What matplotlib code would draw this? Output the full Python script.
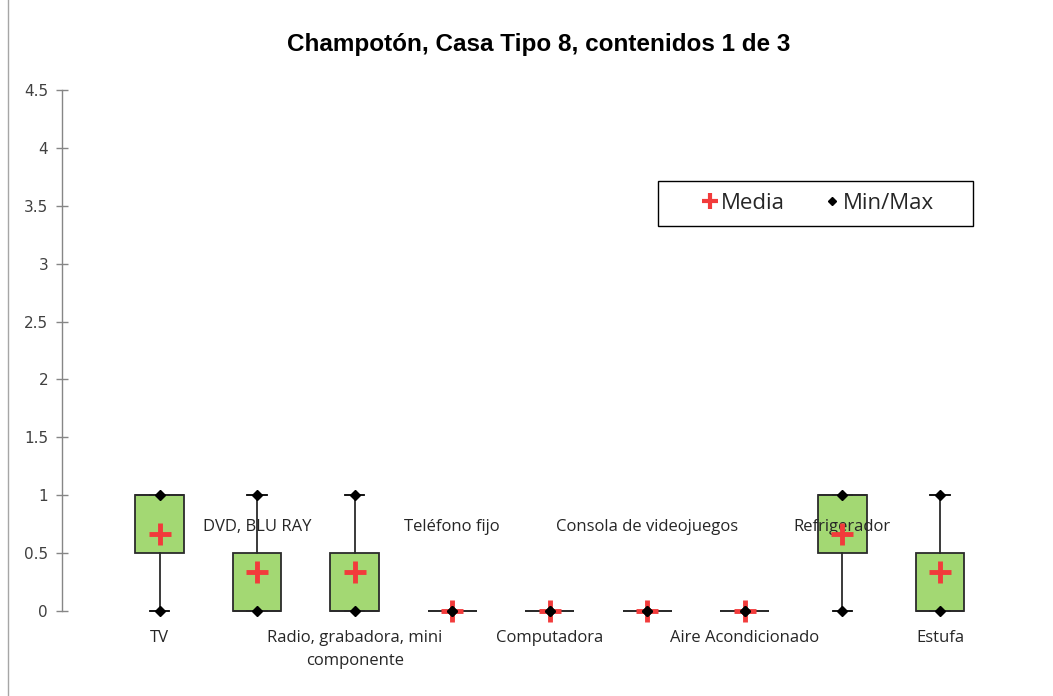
import matplotlib
matplotlib.use("Agg")
import matplotlib.pyplot as plt
from matplotlib.lines import Line2D
from matplotlib.patches import Rectangle
import numpy as np

categories = ["TV", "DVD, BLU RAY", "Radio, grabadora, mini\ncomponente", "Teléfono fijo",
              "Computadora", "Consola de videojuegos", "Aire Acondicionado", "Refrigerador", "Estufa"]
mins    = [0, 0, 0, 0, 0, 0, 0, 0, 0]
q1s     = [0.5, 0, 0, 0, 0, 0, 0, 0.5, 0]
medians = [1, 0, 0, 0, 0, 0, 0, 1, 0]
q3s     = [1, 0.5, 0.5, 0, 0, 0, 0, 1, 0.5]
maxs    = [1, 1, 1, 0, 0, 0, 0, 1, 1]
means   = [0.667, 0.333, 0.333, 0, 0, 0, 0, 0.667, 0.333]
yticks  = [0, 0.5, 1, 1.5, 2, 2.5, 3, 3.5, 4, 4.5]
title = "Champotón, Casa Tipo 8, contenidos 1 de 3"

W, H = 1053, 696
fig = plt.figure(figsize=(W/100, H/100), dpi=100)
left, right = 62/W, 1037.5/W
bottom, top = 1 - 611/H, 1 - 90/H
ax = fig.add_axes([left, bottom, right-left, top-bottom])

stats = []
for i in range(len(categories)):
    stats.append(dict(whislo=mins[i], q1=q1s[i], med=medians[i], q3=q3s[i],
                      whishi=maxs[i], mean=means[i], fliers=[], label=""))
pos = np.arange(len(categories))
ax.bxp(stats, positions=pos, widths=0.5, capwidths=0.2, patch_artist=True,
       showmeans=False, showfliers=False,
       boxprops=dict(facecolor="#A3D873", edgecolor="#2b2b2b", linewidth=1.3),
       whiskerprops=dict(color="#2b2b2b", linewidth=1.3),
       capprops=dict(color="#000000", linewidth=1.3),
       medianprops=dict(color="#2b2b2b", linewidth=1.3))
for art in ax.get_children():
    try:
        art.set_clip_on(False)
    except Exception:
        pass

ax.plot(pos, mins, linestyle="none", marker="D", color="black", markersize=5, clip_on=False, zorder=5)
ax.plot(pos, maxs, linestyle="none", marker="D", color="black", markersize=5, clip_on=False, zorder=5)
ax.plot(pos, means, linestyle="none", marker="+", color="#F23B3B", markersize=16, markeredgewidth=3.5,
        clip_on=False, zorder=4)

ax.set_xlim(-1, 9)
ax.set_ylim(0, 4.5)
ax.set_yticks(yticks)
ax.set_yticklabels([f"{v:g}" for v in yticks])
ax.set_xticks([])
for s in ["top", "right", "bottom"]:
    ax.spines[s].set_visible(False)
ax.spines["left"].set_color("#868686")
ax.spines["left"].set_linewidth(1)
ax.tick_params(axis="y", direction="inout", length=8, width=1, color="#868686",
               labelsize=11, labelcolor="#404040", pad=6)

for i, c in enumerate(categories):
    if i % 2 == 0:
        ax.text(i, -0.165, c, ha="center", va="top", fontsize=12, color="#262626",
                linespacing=1.55, family=["Open Sans", "DejaVu Sans"])
    else:
        ax.text(i, 0.725, c, ha="center", va="center", fontsize=12, color="#262626",
                family=["Open Sans", "DejaVu Sans"])

fig.text(539/W, 1 - 45/H, title, ha="center", va="center",
         fontsize=17.5, fontweight="bold", family=["Liberation Sans", "DejaVu Sans"], color="#000000")

# legend frame
fig.add_artist(Rectangle((658/W, 1 - 226/H), 315/W, 45/H, transform=fig.transFigure,
                         facecolor="white", edgecolor="black", linewidth=1, zorder=3))
h1 = Line2D([], [], linestyle="none", marker="+", color="#F23B3B", markersize=11, markeredgewidth=3)
h2 = Line2D([], [], linestyle="none", marker="D", color="black", markersize=4.5)
leg = fig.legend([h1, h2], ["Media", "Min/Max"], ncol=2, loc="center left",
                 bbox_to_anchor=(701/W, 1 - 203.5/H), bbox_transform=fig.transFigure,
                 frameon=False, handletextpad=0.1, columnspacing=1.7, borderpad=0,
                 borderaxespad=0, handlelength=0.8,
                 prop=dict(family=["Open Sans", "DejaVu Sans"], size=16))
leg.set_zorder(4)
for t in leg.get_texts():
    t.set_color("#262626")

fig.add_artist(Line2D([8/W, 8/W], [0, 1], transform=fig.transFigure, color="#A6A6A6", linewidth=1))

fig.savefig("out.png", dpi=100)
